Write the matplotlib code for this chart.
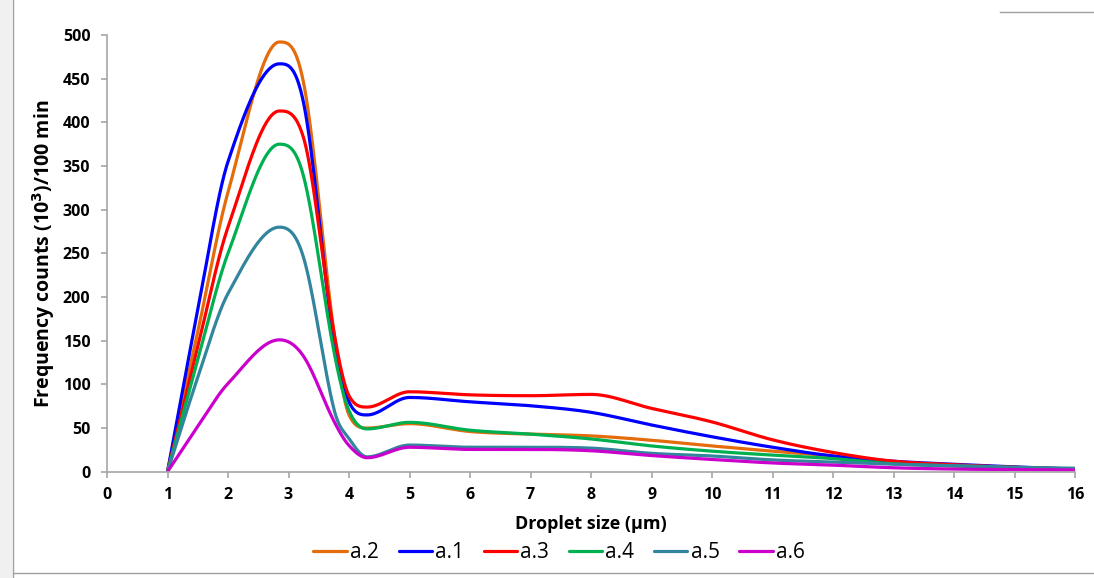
import numpy as np
import matplotlib
matplotlib.use('Agg')
import matplotlib.pyplot as plt
from matplotlib.lines import Line2D
from matplotlib.patches import Rectangle

# droplet size grid (um) and values
sizes = [1, 1.5, 2, 2.85, 3.25, 3.75, 4, 4.3, 5, 6, 7, 8, 9, 10, 11, 12, 13, 14, 15, 16]

a2 = [0, 160, 320, 492, 445, 160, 65, 50, 55, 46, 43, 41, 36, 29.5, 23.5, 18, 11, 7.5, 5, 3]
a1 = [0, 185, 355, 467, 422, 148, 80, 65, 85, 80, 75.5, 68, 53.5, 40, 28, 18, 12, 8.5, 5.5, 3]
a3 = [0, 143, 280, 413, 382, 160, 87, 74, 91.5, 88, 87, 88.5, 72.5, 57, 36.5, 22, 12, 8, 5, 3]
a4 = [0, 128, 250, 375, 338, 138, 70, 49, 56.5, 47.5, 43, 37.5, 29.5, 23.5, 19, 15, 9, 6.5, 4.5, 3]
a5 = [0, 108, 204, 280, 245, 72, 38, 17, 30.5, 28, 28, 27, 21, 18, 13.5, 11, 8.5, 7, 5, 4]
a6 = [0, 52, 101, 151, 132, 58, 30, 16, 28, 25.5, 25.5, 24, 18.5, 14, 10, 7.5, 4.5, 3, 2.5, 2]

labels = ['a.2', 'a.1', 'a.3', 'a.4', 'a.5', 'a.6']
colors = ['#E46C0A', '#0000FF', '#FF0000', '#00B050', '#31859C', '#CC00CC']


def smooth(x, y, n=40):
    # cubic Hermite curve, centred-difference slopes, flat at extrema, no overshoot
    x = np.asarray(x, float)
    y = np.asarray(y, float)
    h = np.diff(x)
    d = np.diff(y) / h
    m = np.zeros_like(y)
    for k in range(1, len(x) - 1):
        if d[k - 1] * d[k] > 0:
            m[k] = (y[k + 1] - y[k - 1]) / (x[k + 1] - x[k - 1])
    m[0] = d[0]
    m[-1] = d[-1]
    for k in range(len(d)):
        if d[k] == 0:
            m[k] = m[k + 1] = 0
            continue
        a, b = m[k] / d[k], m[k + 1] / d[k]
        if a * a + b * b > 9:
            tau = 3 / np.hypot(a, b)
            m[k] = tau * a * d[k]
            m[k + 1] = tau * b * d[k]
    xs, ys = [], []
    for k in range(len(x) - 1):
        t = np.linspace(0, 1, n, endpoint=False)
        h00 = 2 * t**3 - 3 * t**2 + 1
        h10 = t**3 - 2 * t**2 + t
        h01 = -2 * t**3 + 3 * t**2
        h11 = t**3 - t**2
        xs.append(x[k] + t * h[k])
        ys.append(h00 * y[k] + h10 * h[k] * m[k] + h01 * y[k + 1] + h11 * h[k] * m[k + 1])
    xs.append([x[-1]])
    ys.append([y[-1]])
    return np.concatenate(xs), np.concatenate(ys)


plt.rcParams['font.family'] = ['Open Sans', 'DejaVu Sans']

fig = plt.figure(figsize=(10.94, 5.78), dpi=100)
ax = fig.add_axes([107 / 1094, 1 - 471.7 / 578, (1075 - 107) / 1094, (471.7 - 35) / 578])

for vals, lab, col in zip([a2, a1, a3, a4, a5, a6], labels, colors):
    sx, sy = smooth(sizes, vals)
    ax.plot(sx, sy, color=col, lw=2.3, label=lab, solid_capstyle='round')

ax.set_xlim(0, 16)
ax.set_ylim(0, 500)
ax.set_xticks(range(0, 17))
ax.set_yticks(range(0, 501, 50))
for s in ['top', 'right']:
    ax.spines[s].set_visible(False)
for s in ['left', 'bottom']:
    ax.spines[s].set_color('#A6A6A6')
    ax.spines[s].set_linewidth(1.2)
ax.tick_params(colors='#A6A6A6', length=4, width=1.2, labelcolor='black')
ax.tick_params(axis='y', pad=8)
ax.tick_params(axis='x', pad=7)
for lbl in ax.get_xticklabels() + ax.get_yticklabels():
    lbl.set_fontweight('bold')
    lbl.set_fontsize(11.5)

ax.set_xlabel('Droplet size (µm)', fontsize=13, fontweight='bold', labelpad=9)
ax.set_ylabel('Frequency counts (10$^{\\mathbf{3}}$)/100 min', fontsize=14, fontweight='bold', labelpad=4)

ax.legend(loc='upper center', bbox_to_anchor=(0.467, -0.118), ncol=6, frameon=False,
          fontsize=15, handlelength=1.6, handletextpad=0.15, columnspacing=0.95)

# chart area frame remnants
fig.add_artist(Rectangle((0, 0), 12 / 1094, 1, transform=fig.transFigure, color='#F0F0F0', lw=0))
fig.add_artist(Line2D([13 / 1094, 13 / 1094], [0, 1], transform=fig.transFigure, color='#A0A0A0', lw=1))
fig.add_artist(Line2D([13 / 1094, 1], [5 / 578, 5 / 578], transform=fig.transFigure, color='#A0A0A0', lw=1))
fig.add_artist(Line2D([1000 / 1094, 1], [1 - 12 / 578, 1 - 12 / 578], transform=fig.transFigure, color='#A0A0A0', lw=1))

fig.savefig('out.png', dpi=100)
